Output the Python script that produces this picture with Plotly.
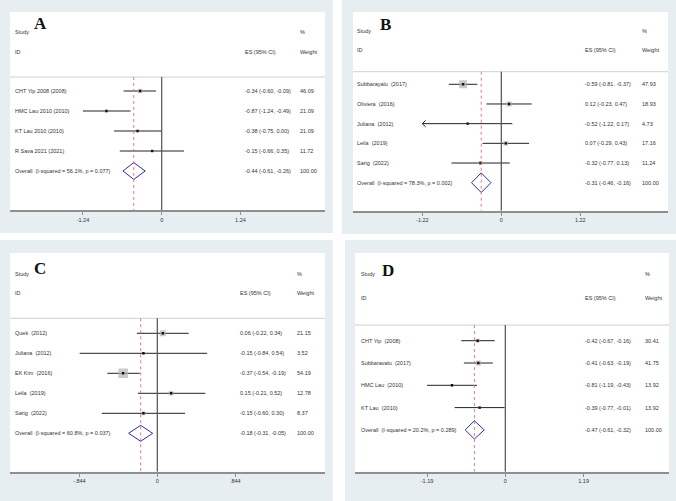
import plotly.graph_objects as go

W, H = 676, 501

# ---------------- data ----------------
# Panel A
a_studies = ["CHT Yip 2008 (2008)", "HMC Lau 2010 (2010)", "KT Lau 2010 (2010)", "R Sava 2021 (2021)"]
a_es = [-0.34, -0.87, -0.38, -0.15]
a_lo = [-0.60, -1.24, -0.75, -0.66]
a_hi = [-0.09, -0.49, 0.00, 0.35]
a_w = [46.09, 21.09, 21.09, 11.72]
a_overall_label = "Overall  (I-squared = 56.1%, p = 0.077)"
a_overall = [-0.44, -0.61, -0.26]
a_ticks = [-1.24, 0, 1.24]
a_ticklabels = ["-1.24", "0", "1.24"]

# Panel B
b_studies = ["Subbarayalu  (2017)", "Oliviera  (2016)", "Juliana  (2012)", "Leila  (2019)", "Sarig  (2022)"]
b_es = [-0.59, 0.12, -0.52, 0.07, -0.32]
b_lo = [-0.81, -0.23, -1.22, -0.29, -0.77]
b_hi = [-0.37, 0.47, 0.17, 0.43, 0.13]
b_w = [47.93, 18.93, 4.73, 17.16, 11.24]
b_overall_label = "Overall  (I-squared = 78.3%, p = 0.002)"
b_overall = [-0.31, -0.46, -0.16]
b_ticks = [-1.22, 0, 1.22]
b_ticklabels = ["-1.22", "0", "1.22"]

# Panel C
c_studies = ["Quek  (2012)", "Juliana  (2012)", "EK Kim  (2016)", "Leila  (2019)", "Sarig  (2022)"]
c_es = [0.06, -0.15, -0.37, 0.15, -0.15]
c_lo = [-0.22, -0.84, -0.54, -0.21, -0.60]
c_hi = [0.34, 0.54, -0.19, 0.52, 0.30]
c_w = [21.15, 3.52, 54.19, 12.78, 8.37]
c_overall_label = "Overall  (I-squared = 60.8%, p = 0.037)"
c_overall = [-0.18, -0.31, -0.05]
c_ticks = [-0.844, 0, 0.844]
c_ticklabels = ["-.844", "0", ".844"]

# Panel D
d_studies = ["CHT Yip  (2008)", "Subbaravalu  (2017)", "HMC Lau  (2010)", "KT Lau  (2010)"]
d_es = [-0.42, -0.41, -0.81, -0.39]
d_lo = [-0.67, -0.63, -1.19, -0.77]
d_hi = [-0.16, -0.19, -0.43, -0.01]
d_w = [30.41, 41.75, 13.92, 13.92]
d_overall_label = "Overall  (I-squared = 20.2%, p = 0.289)"
d_overall = [-0.47, -0.61, -0.32]
d_ticks = [-1.19, 0, 1.19]
d_ticklabels = ["-1.19", "0", "1.19"]

# ---------------- layout / style config ----------------
panels = [
    dict(letter="A", studies=a_studies, es=a_es, lo=a_lo, hi=a_hi, w=a_w,
         ovl=a_overall_label, ov=a_overall, ticks=a_ticks, tlab=a_ticklabels,
         gray=(0, 0, 333, 233), white=(10, 12, 325, 210), zero_px=161.7, ppu=63.5,
         r0=91.0, rs=20.0, hdr=(-2.95, -1.95, -0.7), cols=(13.3, 242.7, 297.7),
         let=(40, 24), box_k=0.66, dia_h=0.42, arrows=[]),
    dict(letter="B", studies=b_studies, es=b_es, lo=b_lo, hi=b_hi, w=b_w,
         ovl=b_overall_label, ov=b_overall, ticks=b_ticks, tlab=b_ticklabels,
         gray=(342, 0, 676, 234), white=(353, 12, 668, 210.7), zero_px=501.3, ppu=64.75,
         r0=84.3, rs=19.68, hdr=(-2.73, -1.74, -0.64), cols=(355.3, 583.0, 639.7),
         let=(386, 25), box_k=1.15, dia_h=0.5, arrows=[2]),
    dict(letter="C", studies=c_studies, es=c_es, lo=c_lo, hi=c_hi, w=c_w,
         ovl=c_overall_label, ov=c_overall, ticks=c_ticks, tlab=c_ticklabels,
         gray=(0, 240, 333, 501), white=(10, 253, 325, 471.7), zero_px=157.3, ppu=92.4,
         r0=333.3, rs=20.0, hdr=(-2.98, -2.0, -0.75), cols=(13.3, 238.3, 295.0),
         let=(40, 268), box_k=1.3, dia_h=0.4, arrows=[]),
    dict(letter="D", studies=d_studies, es=d_es, lo=d_lo, hi=d_hi, w=d_w,
         ovl=d_overall_label, ov=d_overall, ticks=d_ticks, tlab=d_ticklabels,
         gray=(345, 240, 676, 501), white=(355, 253, 669, 471.7), zero_px=505.3, ppu=65.8,
         r0=340.7, rs=22.3, hdr=(-2.98, -1.93, -0.7), cols=(358.7, 583.0, 643.0),
         let=(388, 270), box_k=0.75, dia_h=0.41, arrows=[]),
]

BG_GRAY = "#e7eef2"
TXT = "#333333"
FONT = "Liberation Sans"
FS = 5.5

fig = go.Figure()
shapes = []
annotations = []

for i, p in enumerate(panels):
    n = "" if i == 0 else str(i + 1)
    xa, ya = "x" + n, "y" + n
    wx0, wy0, wx1, wy1 = p["white"]
    gx0, gy0, gx1, gy1 = p["gray"]

    # background boxes (paper)
    shapes.append(dict(type="rect", xref="paper", yref="paper", layer="below",
                       x0=gx0 / W, x1=gx1 / W, y0=1 - gy1 / H, y1=1 - gy0 / H,
                       fillcolor=BG_GRAY, line=dict(width=0)))
    shapes.append(dict(type="rect", xref="paper", yref="paper", layer="below",
                       x0=wx0 / W, x1=wx1 / W, y0=1 - wy1 / H, y1=1 - wy0 / H,
                       fillcolor="white", line=dict(width=0)))

    xr = [(wx0 - p["zero_px"]) / p["ppu"], (wx1 - p["zero_px"]) / p["ppu"]]
    ybot = (wy1 - p["r0"]) / p["rs"]
    ytop = (wy0 - p["r0"]) / p["rs"]
    k = len(p["studies"])
    rows = list(range(k))
    ov_row = k

    axis_x = dict(domain=[wx0 / W, wx1 / W], range=xr, anchor=ya,
                  showline=True, linecolor="#8f8f8f", linewidth=2,
                  ticks="outside", ticklen=3, tickwidth=1, tickcolor="#8f8f8f",
                  tickvals=p["ticks"], ticktext=p["tlab"],
                  tickfont=dict(family=FONT, size=FS, color=TXT),
                  showgrid=False, zeroline=False, fixedrange=True)
    axis_y = dict(domain=[1 - wy1 / H, 1 - wy0 / H], range=[ybot, ytop], anchor=xa,
                  visible=False, showgrid=False, zeroline=False, fixedrange=True)
    fig.layout["xaxis" + n] = axis_x
    fig.layout["yaxis" + n] = axis_y

    hdr_study, hdr_id, hdr_line = p["hdr"]
    # header rule
    shapes.append(dict(type="line", xref=xa + " domain", yref=ya, x0=0, x1=1,
                       y0=hdr_line, y1=hdr_line, line=dict(color="#d0d0d0", width=1)))
    # zero line
    shapes.append(dict(type="line", xref=xa, yref=ya, x0=0, x1=0,
                       y0=hdr_line, y1=ybot, line=dict(color="#505050", width=1.2)))
    # overall dotted red line
    shapes.append(dict(type="line", xref=xa, yref=ya, x0=p["ov"][0], x1=p["ov"][0],
                       y0=hdr_line, y1=ybot, line=dict(color="#e06a80", width=0.9, dash="dot")))

    # CI lines
    lx, ly = [], []
    for r, lo, hi in zip(rows, p["lo"], p["hi"]):
        lx += [lo, hi, None]
        ly += [r, r, None]
    fig.add_trace(go.Scatter(x=lx, y=ly, mode="lines", xaxis=xa, yaxis=ya,
                             line=dict(color="#222222", width=1), hoverinfo="skip",
                             showlegend=False))
    # arrows for truncated CI
    for r in p["arrows"]:
        lo = p["lo"][r]
        dx = 3.3 / p["ppu"]
        dy = 3.3 / p["rs"]
        fig.add_trace(go.Scatter(x=[lo + dx, lo, lo + dx], y=[r - dy, r, r + dy], mode="lines",
                                 xaxis=xa, yaxis=ya, line=dict(color="#222222", width=1),
                                 hoverinfo="skip", showlegend=False))
    # weight boxes
    fig.add_trace(go.Scatter(x=p["es"], y=rows, mode="markers", xaxis=xa, yaxis=ya,
                             marker=dict(symbol="square", color="#b4b4b4",
                                         size=[p["box_k"] * w ** 0.5 for w in p["w"]],
                                         line=dict(width=0)),
                             hoverinfo="skip", showlegend=False))
    # point estimates
    fig.add_trace(go.Scatter(x=p["es"], y=rows, mode="markers", xaxis=xa, yaxis=ya,
                             marker=dict(symbol="square", color="#111111", size=2.4,
                                         line=dict(width=0)),
                             hoverinfo="skip", showlegend=False))
    # overall diamond
    es, lo, hi = p["ov"]
    h = p["dia_h"]
    fig.add_trace(go.Scatter(x=[lo, es, hi, es, lo], y=[ov_row, ov_row - h, ov_row, ov_row + h, ov_row],
                             mode="lines", xaxis=xa, yaxis=ya,
                             line=dict(color="#2e2e9c", width=1), hoverinfo="skip",
                             showlegend=False))

    # text columns
    cw = wx1 - wx0
    c_study, c_es, c_w = [(c - wx0) / cw for c in p["cols"]]
    tf = dict(family=FONT, size=FS, color=TXT)

    def txt(x, y, s):
        annotations.append(dict(xref=xa + " domain", yref=ya, x=x, y=y, text=s,
                                showarrow=False, xanchor="left", yanchor="middle",
                                font=tf))

    txt(c_study, hdr_study, "Study")
    txt(c_study, hdr_id, "ID")
    txt(c_es, hdr_id, "ES (95% CI)")
    txt(c_w, hdr_study, "%")
    txt(c_w, hdr_id, "Weight")
    for r, s, e, l, hh, w in zip(rows, p["studies"], p["es"], p["lo"], p["hi"], p["w"]):
        txt(c_study, r, s)
        txt(c_es, r, f"{e:.2f} ({l:.2f}, {hh:.2f})")
        txt(c_w, r, f"{w:.2f}")
    txt(c_study, ov_row, p["ovl"])
    txt(c_es, ov_row, f"{es:.2f} ({lo:.2f}, {hi:.2f})")
    txt(c_w, ov_row, "100.00")

    # panel letter
    lx_px, ly_px = p["let"]
    annotations.append(dict(xref=xa + " domain", yref=ya, x=(lx_px - wx0) / cw,
                            y=(ly_px - p["r0"]) / p["rs"], text="<b>" + p["letter"] + "</b>",
                            showarrow=False, xanchor="center", yanchor="middle",
                            font=dict(family="Liberation Serif", size=17, color="#111111")))

fig.update_layout(width=W, height=H, margin=dict(l=0, r=0, t=0, b=0),
                  paper_bgcolor="white", plot_bgcolor="rgba(0,0,0,0)",
                  shapes=shapes, annotations=annotations, showlegend=False)

fig.write_html("out.html", config={"displayModeBar": False, "staticPlot": True},
               post_script="document.body.style.margin='0';document.body.style.overflow='hidden';")
